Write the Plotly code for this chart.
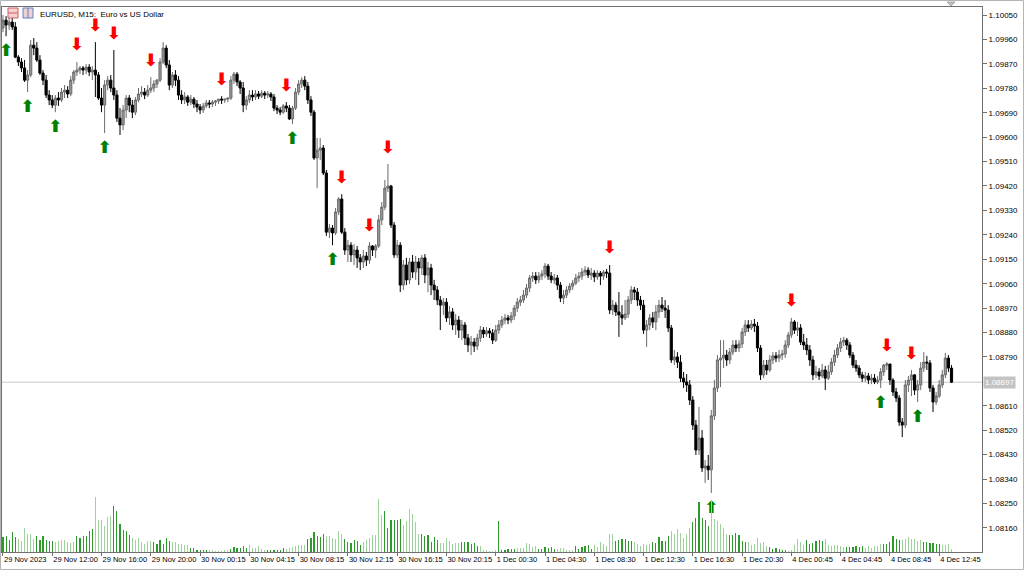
import plotly.graph_objects as go

# ---------------- data (EURUSD M15) ----------------
opens = [
1.10002,1.10031,1.10013,1.10024,1.10006,1.09895,1.09877,1.09855,1.09810,1.09829,1.09939,1.09928,1.09884,1.09836,1.09810,1.09755,
1.09737,1.09718,1.09744,1.09737,1.09766,1.09773,1.09759,1.09810,1.09840,1.09847,1.09855,1.09847,1.09858,1.09840,1.09847,1.09829,
1.09744,1.09718,1.09792,1.09810,1.09781,1.09755,1.09670,1.09645,1.09700,1.09744,1.09718,1.09692,1.09737,1.09759,1.09766,1.09755,
1.09773,1.09781,1.09796,1.09810,1.09877,1.09928,1.09866,1.09792,1.09829,1.09810,1.09755,1.09737,1.09748,1.09729,1.09740,1.09722,
1.09711,1.09700,1.09715,1.09726,1.09722,1.09729,1.09733,1.09740,1.09737,1.09740,1.09744,1.09810,1.09832,1.09803,1.09781,1.09718,
1.09737,1.09755,1.09748,1.09759,1.09751,1.09762,1.09755,1.09759,1.09748,1.09707,1.09700,1.09692,1.09715,1.09707,1.09667,1.09707,
1.09766,1.09796,1.09810,1.09788,1.09737,1.09692,1.09523,1.09552,1.09560,1.09468,1.09250,1.09265,1.09247,1.09324,1.09372,1.09250,
1.09184,1.09202,1.09166,1.09184,1.09155,1.09140,1.09162,1.09147,1.09199,1.09184,1.09199,1.09295,1.09342,1.09412,1.09420,1.09276,
1.09166,1.09202,1.09055,1.09129,1.09074,1.09140,1.09103,1.09140,1.09118,1.09155,1.09092,1.09118,1.09055,1.09037,1.09000,1.08981,
1.08992,1.08934,1.08956,1.08908,1.08926,1.08889,1.08908,1.08860,1.08834,1.08845,1.08830,1.08860,1.08889,1.08875,1.08886,1.08878,
1.08852,1.08889,1.08908,1.08926,1.08934,1.08926,1.08941,1.08970,1.08992,1.09000,1.09018,1.09044,1.09081,1.09088,1.09074,1.09088,
1.09096,1.09125,1.09088,1.09074,1.09081,1.09055,1.09007,1.09018,1.09037,1.09051,1.09062,1.09081,1.09088,1.09103,1.09110,1.09092,
1.09099,1.09085,1.09099,1.09088,1.09103,1.09099,1.08963,1.08981,1.08956,1.08945,1.08934,1.08948,1.09000,1.09037,1.09029,1.09000,
1.08981,1.08889,1.08908,1.08934,1.08919,1.08956,1.08981,1.08970,1.08963,1.08897,1.08779,1.08790,1.08771,1.08712,1.08698,1.08687,
1.08631,1.08539,1.08447,1.08491,1.08381,1.08388,1.08374,1.08573,1.08676,1.08779,1.08786,1.08797,1.08779,1.08808,1.08834,1.08823,
1.08838,1.08882,1.08908,1.08897,1.08911,1.08904,1.08823,1.08724,1.08760,1.08742,1.08779,1.08794,1.08786,1.08797,1.08801,1.08834,
1.08871,1.08919,1.08889,1.08897,1.08845,1.08834,1.08816,1.08779,1.08724,1.08735,1.08720,1.08742,1.08712,1.08735,1.08771,1.08797,
1.08823,1.08845,1.08852,1.08834,1.08797,1.08760,1.08749,1.08724,1.08712,1.08720,1.08705,1.08712,1.08698,1.08705,1.08735,1.08760,
1.08764,1.08705,1.08661,1.08639,1.08550,1.08539,1.08687,1.08705,1.08724,1.08668,1.08687,1.08749,1.08771,1.08768,1.08676,1.08624,
1.08646,1.08687,1.08724,1.08786,1.08749]

highs = [
1.10050,1.10046,1.10050,1.10039,1.10024,1.09902,1.09891,1.09884,1.09847,1.09958,1.09965,1.09950,1.09902,1.09847,1.09829,1.09773,
1.09755,1.09755,1.09766,1.09781,1.09792,1.09788,1.09825,1.09847,1.09877,1.09862,1.09862,1.09869,1.09869,1.09862,1.09950,1.09840,
1.09781,1.09810,1.09825,1.09829,1.09921,1.09773,1.09707,1.09718,1.09755,1.09755,1.09737,1.09748,1.09781,1.09788,1.09781,1.09792,
1.09821,1.09810,1.09814,1.09891,1.09950,1.09939,1.09884,1.09840,1.09847,1.09825,1.09773,1.09766,1.09755,1.09755,1.09748,1.09737,
1.09722,1.09726,1.09737,1.09737,1.09737,1.09737,1.09740,1.09751,1.09740,1.09744,1.09825,1.09840,1.09840,1.09810,1.09803,1.09751,
1.09773,1.09773,1.09773,1.09770,1.09773,1.09770,1.09770,1.09766,1.09759,1.09718,1.09711,1.09722,1.09729,1.09718,1.09715,1.09781,
1.09810,1.09821,1.09825,1.09803,1.09751,1.09700,1.09597,1.09597,1.09571,1.09479,1.09280,1.09276,1.09339,1.09379,1.09390,1.09265,
1.09221,1.09213,1.09206,1.09199,1.09169,1.09184,1.09177,1.09213,1.09202,1.09206,1.09313,1.09361,1.09442,1.09501,1.09424,1.09287,
1.09221,1.09213,1.09147,1.09155,1.09155,1.09166,1.09162,1.09155,1.09166,1.09169,1.09140,1.09133,1.09074,1.09051,1.09015,1.09007,
1.09007,1.08978,1.08970,1.08948,1.08941,1.08926,1.08919,1.08875,1.08867,1.08860,1.08875,1.08904,1.08900,1.08900,1.08897,1.08893,
1.08908,1.08926,1.08941,1.08948,1.08945,1.08956,1.08981,1.09007,1.09015,1.09037,1.09059,1.09092,1.09103,1.09103,1.09103,1.09110,
1.09136,1.09133,1.09103,1.09096,1.09092,1.09066,1.09037,1.09051,1.09062,1.09074,1.09096,1.09103,1.09118,1.09125,1.09121,1.09118,
1.09110,1.09110,1.09107,1.09110,1.09114,1.09129,1.09000,1.08992,1.09029,1.08981,1.09000,1.09015,1.09051,1.09048,1.09044,1.09015,
1.09000,1.08926,1.08948,1.08956,1.08981,1.09000,1.09011,1.09000,1.08981,1.08908,1.08816,1.08808,1.08797,1.08735,1.08727,1.08705,
1.08646,1.08558,1.08606,1.08521,1.08410,1.08429,1.08595,1.08705,1.08797,1.08852,1.08852,1.08816,1.08823,1.08852,1.08852,1.08852,
1.08897,1.08926,1.08926,1.08926,1.08930,1.08919,1.08834,1.08779,1.08779,1.08797,1.08808,1.08808,1.08816,1.08816,1.08852,1.08882,
1.08934,1.08926,1.08919,1.08911,1.08875,1.08860,1.08834,1.08794,1.08757,1.08749,1.08764,1.08757,1.08760,1.08786,1.08816,1.08838,
1.08860,1.08864,1.08860,1.08845,1.08808,1.08779,1.08760,1.08735,1.08735,1.08731,1.08727,1.08727,1.08720,1.08749,1.08764,1.08771,
1.08764,1.08712,1.08676,1.08650,1.08565,1.08705,1.08720,1.08742,1.08727,1.08705,1.08771,1.08808,1.08794,1.08779,1.08687,1.08661,
1.08705,1.08742,1.08805,1.08797,1.08760]

lows = [
1.09987,1.09972,1.09995,1.09995,1.09891,1.09862,1.09840,1.09803,1.09766,1.09821,1.09902,1.09877,1.09829,1.09792,1.09744,1.09718,
1.09707,1.09692,1.09715,1.09729,1.09744,1.09744,1.09751,1.09796,1.09825,1.09832,1.09829,1.09832,1.09825,1.09810,1.09748,1.09737,
1.09692,1.09615,1.09773,1.09766,1.09737,1.09656,1.09608,1.09626,1.09670,1.09692,1.09670,1.09681,1.09729,1.09748,1.09740,1.09748,
1.09762,1.09766,1.09781,1.09803,1.09869,1.09855,1.09773,1.09781,1.09788,1.09737,1.09722,1.09722,1.09715,1.09718,1.09707,1.09692,
1.09685,1.09689,1.09707,1.09707,1.09711,1.09715,1.09722,1.09722,1.09726,1.09729,1.09737,1.09796,1.09788,1.09759,1.09692,1.09700,
1.09726,1.09733,1.09737,1.09740,1.09744,1.09740,1.09744,1.09733,1.09696,1.09685,1.09681,1.09685,1.09692,1.09663,1.09648,1.09700,
1.09755,1.09781,1.09773,1.09722,1.09678,1.09516,1.09412,1.09516,1.09460,1.09236,1.09228,1.09202,1.09239,1.09313,1.09243,1.09166,
1.09140,1.09140,1.09129,1.09118,1.09110,1.09118,1.09125,1.09133,1.09162,1.09155,1.09191,1.09276,1.09331,1.09398,1.09265,1.09155,
1.09155,1.09029,1.09037,1.09055,1.09059,1.09081,1.09074,1.09055,1.09092,1.09062,1.09029,1.09018,1.09000,1.08981,1.08889,1.08945,
1.08919,1.08908,1.08889,1.08871,1.08860,1.08852,1.08834,1.08808,1.08797,1.08808,1.08816,1.08845,1.08860,1.08864,1.08860,1.08838,
1.08845,1.08875,1.08897,1.08911,1.08911,1.08915,1.08926,1.08956,1.08978,1.08989,1.09007,1.09029,1.09066,1.09059,1.09062,1.09074,
1.09081,1.09074,1.09062,1.09059,1.09037,1.08992,1.08985,1.09007,1.09026,1.09037,1.09055,1.09066,1.09074,1.09088,1.09081,1.09074,
1.09066,1.09074,1.09055,1.09074,1.09081,1.08948,1.08945,1.08941,1.08864,1.08908,1.08926,1.08934,1.08985,1.09000,1.08978,1.08963,
1.08875,1.08827,1.08889,1.08897,1.08889,1.08934,1.08956,1.08934,1.08882,1.08768,1.08760,1.08749,1.08698,1.08676,1.08661,1.08613,
1.08521,1.08429,1.08429,1.08366,1.08326,1.08337,1.08289,1.08558,1.08661,1.08679,1.08749,1.08757,1.08764,1.08797,1.08808,1.08808,
1.08823,1.08867,1.08882,1.08889,1.08882,1.08808,1.08705,1.08712,1.08724,1.08735,1.08764,1.08771,1.08771,1.08779,1.08786,1.08823,
1.08860,1.08875,1.08867,1.08834,1.08816,1.08797,1.08757,1.08705,1.08712,1.08705,1.08712,1.08668,1.08705,1.08724,1.08757,1.08786,
1.08808,1.08830,1.08816,1.08786,1.08749,1.08735,1.08712,1.08698,1.08698,1.08690,1.08690,1.08690,1.08690,1.08676,1.08720,1.08742,
1.08687,1.08646,1.08624,1.08536,1.08495,1.08528,1.08661,1.08646,1.08650,1.08624,1.08668,1.08735,1.08742,1.08661,1.08587,1.08613,
1.08639,1.08676,1.08712,1.08735,1.08694]

closes = [
1.10031,1.10013,1.10024,1.10006,1.09895,1.09877,1.09855,1.09810,1.09829,1.09939,1.09928,1.09884,1.09836,1.09810,1.09755,1.09737,
1.09718,1.09744,1.09737,1.09766,1.09773,1.09759,1.09810,1.09840,1.09847,1.09855,1.09847,1.09858,1.09840,1.09847,1.09829,1.09744,
1.09718,1.09792,1.09810,1.09781,1.09755,1.09670,1.09645,1.09700,1.09744,1.09718,1.09692,1.09737,1.09759,1.09766,1.09755,1.09773,
1.09781,1.09796,1.09810,1.09877,1.09928,1.09866,1.09792,1.09829,1.09810,1.09755,1.09737,1.09748,1.09729,1.09740,1.09722,1.09711,
1.09700,1.09715,1.09726,1.09722,1.09729,1.09733,1.09740,1.09737,1.09740,1.09744,1.09810,1.09832,1.09803,1.09781,1.09718,1.09737,
1.09755,1.09748,1.09759,1.09751,1.09762,1.09755,1.09759,1.09748,1.09707,1.09700,1.09692,1.09715,1.09707,1.09667,1.09707,1.09766,
1.09796,1.09810,1.09788,1.09737,1.09692,1.09523,1.09552,1.09560,1.09468,1.09250,1.09265,1.09247,1.09324,1.09372,1.09250,1.09184,
1.09202,1.09166,1.09184,1.09155,1.09140,1.09162,1.09147,1.09199,1.09184,1.09199,1.09295,1.09342,1.09412,1.09420,1.09276,1.09166,
1.09202,1.09055,1.09129,1.09074,1.09140,1.09103,1.09140,1.09118,1.09155,1.09092,1.09118,1.09055,1.09037,1.09000,1.08981,1.08992,
1.08934,1.08956,1.08908,1.08926,1.08889,1.08908,1.08860,1.08834,1.08845,1.08830,1.08860,1.08889,1.08875,1.08886,1.08878,1.08852,
1.08889,1.08908,1.08926,1.08934,1.08926,1.08941,1.08970,1.08992,1.09000,1.09018,1.09044,1.09081,1.09088,1.09074,1.09088,1.09096,
1.09125,1.09088,1.09074,1.09081,1.09055,1.09007,1.09018,1.09037,1.09051,1.09062,1.09081,1.09088,1.09103,1.09110,1.09092,1.09099,
1.09085,1.09099,1.09088,1.09103,1.09099,1.08963,1.08981,1.08956,1.08945,1.08934,1.08948,1.09000,1.09037,1.09029,1.09000,1.08981,
1.08889,1.08908,1.08934,1.08919,1.08956,1.08981,1.08970,1.08963,1.08897,1.08779,1.08790,1.08771,1.08712,1.08698,1.08687,1.08631,
1.08539,1.08447,1.08491,1.08381,1.08388,1.08374,1.08573,1.08676,1.08779,1.08786,1.08797,1.08779,1.08808,1.08834,1.08823,1.08838,
1.08882,1.08908,1.08897,1.08911,1.08904,1.08823,1.08724,1.08760,1.08742,1.08779,1.08794,1.08786,1.08797,1.08801,1.08834,1.08871,
1.08919,1.08889,1.08897,1.08845,1.08834,1.08816,1.08779,1.08724,1.08735,1.08720,1.08742,1.08712,1.08735,1.08771,1.08797,1.08823,
1.08845,1.08852,1.08834,1.08797,1.08760,1.08749,1.08724,1.08712,1.08720,1.08705,1.08712,1.08698,1.08705,1.08735,1.08760,1.08764,
1.08705,1.08661,1.08639,1.08550,1.08539,1.08687,1.08705,1.08724,1.08668,1.08687,1.08749,1.08771,1.08768,1.08676,1.08624,1.08646,
1.08687,1.08724,1.08786,1.08749,1.08697]

tick_volume = [
450,480,360,600,450,390,330,720,540,540,390,480,360,480,360,330,
330,300,330,360,360,300,270,300,480,420,480,480,630,690,1650,960,
960,780,1050,1080,1380,1230,840,660,630,510,420,360,420,300,240,330,
330,300,240,360,240,420,330,300,300,240,240,210,210,120,120,60,
60,60,60,60,60,30,30,30,60,60,90,150,120,120,180,120,
210,120,120,180,90,60,60,60,60,60,60,120,90,120,150,180,
210,210,210,390,420,600,480,450,540,480,480,420,390,630,540,390,
300,270,360,330,210,300,360,420,510,510,1590,1110,1230,720,960,960,
960,990,810,930,1290,1140,900,540,540,480,510,300,450,360,270,270,
420,330,240,270,270,300,300,300,240,270,180,180,60,60,30,30,
60,930,60,60,90,90,90,120,120,120,270,240,150,180,90,90,
150,120,150,90,90,120,120,60,60,60,180,90,150,180,210,90,
210,150,300,240,180,540,540,330,360,390,390,330,330,300,240,180,
240,210,240,300,270,450,330,330,480,630,540,690,570,420,540,720,
900,1020,1500,1020,960,780,1560,990,930,840,720,540,510,510,570,510,
330,300,300,210,240,420,270,300,180,150,90,120,90,60,60,30,
60,210,390,300,210,360,240,270,330,360,330,390,210,180,210,210,
180,150,150,150,150,180,150,180,120,180,120,180,180,240,240,240,
300,480,390,360,360,390,450,390,390,330,360,300,300,270,270,240,
240,210,210,240,90]

# fractal bars (index of bar)
fractal_up_bars = [24, 30, 36, 48, 71, 92, 110, 119, 125, 197, 256, 287, 295]
fractal_down_bars = [1, 8, 17, 33, 94, 107, 230, 285, 297]

time_tick_bars = [0, 16, 32, 48, 64, 80, 96, 112, 128, 144, 160, 176, 192, 208, 224, 240, 256, 272, 288, 304]
time_tick_labels = ["29 Nov 2023", "29 Nov 12:00", "29 Nov 16:00", "29 Nov 20:00", "30 Nov 00:15",
                    "30 Nov 04:15", "30 Nov 08:15", "30 Nov 12:15", "30 Nov 16:15", "30 Nov 20:15",
                    "1 Dec 00:30", "1 Dec 04:30", "1 Dec 08:30", "1 Dec 12:30", "1 Dec 16:30",
                    "1 Dec 20:30", "4 Dec 00:45", "4 Dec 04:45", "4 Dec 08:45", "4 Dec 12:45"]
price_ticks = [1.08160, 1.08250, 1.08340, 1.08430, 1.08520, 1.08610, 1.08790, 1.08880, 1.08970,
               1.09060, 1.09150, 1.09240, 1.09330, 1.09420, 1.09510, 1.09600, 1.09690, 1.09780,
               1.09870, 1.09960, 1.10050]
last_price = 1.08697
symbol_title = "EURUSD, M15:  Euro vs US Dollar"

# ---------------- figure ----------------
n = len(closes)
bars = list(range(n))
FONT = "Liberation Sans"

# volume bar shading (mimics the resampled look of 1px bars)
vol_colors = []
for i in bars:
    ph = (3.08 * i) % 1.0
    vol_colors.append("#9bd39b" if 0.35 < ph < 0.85 else "#2e9a2e")

fig = go.Figure()

fig.add_trace(go.Bar(
    x=bars, y=tick_volume, yaxis="y2", width=0.36,
    marker=dict(color=vol_colors, line=dict(width=0)),
    hoverinfo="skip", showlegend=False))

fig.add_trace(go.Candlestick(
    x=bars, open=opens, high=highs, low=lows, close=closes,
    increasing=dict(line=dict(color="#6a6a6a", width=1), fillcolor="#9c9c9c"),
    decreasing=dict(line=dict(color="#000000", width=1), fillcolor="#000000"),
    whiskerwidth=0, showlegend=False, hoverinfo="skip"))

arrow_off = 0.00058
fig.add_trace(go.Scatter(
    x=fractal_up_bars, y=[highs[i] + arrow_off for i in fractal_up_bars],
    mode="text", text=["\u2b07"] * len(fractal_up_bars),
    textfont=dict(color="#ff0000", size=17, family="DejaVu Sans", weight="bold"),
    hoverinfo="skip", showlegend=False))
fig.add_trace(go.Scatter(
    x=fractal_down_bars, y=[lows[i] - arrow_off for i in fractal_down_bars],
    mode="text", text=["\u2b06"] * len(fractal_down_bars),
    textfont=dict(color="#008000", size=17, family="DejaVu Sans", weight="bold"),
    hoverinfo="skip", showlegend=False))

# last price line + label
fig.add_shape(type="line", xref="paper", x0=0, x1=1, yref="y", y0=last_price, y1=last_price,
              line=dict(color="#c8c8c8", width=1), layer="below")
fig.add_annotation(xref="paper", x=1, xanchor="left", yref="y", y=last_price, yanchor="middle",
                   text=f"{last_price:.5f}", showarrow=False, bgcolor="#c3c3c3",
                   font=dict(family=FONT, size=8, color="#ffffff"), borderpad=1, xshift=1)

# title + icons
fig.add_annotation(xref="paper", x=0, xanchor="left", xshift=36, yref="paper", y=1, yanchor="top",
                   yshift=-1, text=symbol_title, showarrow=False,
                   font=dict(family=FONT, size=8, color="#000000"))
def px_x(p):
    return (p - 2) / 980.0
def px_y(p):
    return (552 - p) / 545.0
fig.add_shape(type="rect", xref="paper", yref="paper", x0=px_x(8), x1=px_x(18), y0=px_y(18), y1=px_y(8),
              line=dict(color="#d06060", width=1), fillcolor="#f4d0d0")
fig.add_shape(type="line", xref="paper", yref="paper", x0=px_x(8), x1=px_x(18), y0=px_y(13), y1=px_y(13),
              line=dict(color="#d06060", width=1))
fig.add_shape(type="rect", xref="paper", yref="paper", x0=px_x(23), x1=px_x(33), y0=px_y(18), y1=px_y(8),
              line=dict(color="#6080c0", width=1), fillcolor="#f0d0d0")
fig.add_shape(type="line", xref="paper", yref="paper", x0=px_x(28), x1=px_x(28), y0=px_y(18), y1=px_y(8),
              line=dict(color="#6080c0", width=1))
# chart-shift marker
fig.add_shape(type="path", xref="paper", yref="paper",
              path=f"M {px_x(947)} {px_y(2)} L {px_x(955)} {px_y(2)} L {px_x(951)} {px_y(6)} Z",
              line=dict(color="#a8a8a8", width=1), fillcolor="#c0c0c0")
# outer frame of the terminal window
fig.add_shape(type="rect", xref="paper", yref="paper", x0=px_x(0.5), x1=px_x(1023.5),
              y0=px_y(569.5), y1=px_y(0.5), line=dict(color="#b4b4b4", width=1))

fig.update_layout(
    width=1024, height=570,
    margin=dict(l=2, r=42, t=7, b=18),
    paper_bgcolor="#ffffff", plot_bgcolor="#ffffff",
    showlegend=False, hovermode=False,
    boxgap=0.3, boxgroupgap=0,
    xaxis=dict(range=[-0.32, 317.9], rangeslider=dict(visible=False),
               tickmode="array", tickvals=time_tick_bars, ticktext=time_tick_labels,
               tickangle=0,
               ticks="outside", ticklen=3, tickcolor="#707070",
               ticklabelposition="outside right",
               tickfont=dict(family=FONT, size=7.5, color="#000000"),
               showgrid=False, zeroline=False,
               showline=True, linecolor="#707070", linewidth=1, mirror=True),
    yaxis=dict(range=[1.080714, 1.100795], side="right",
               tickmode="array", tickvals=price_ticks, tickformat=".5f",
               ticks="outside", ticklen=4, tickcolor="#707070",
               tickfont=dict(family=FONT, size=8, color="#000000"),
               showgrid=False, zeroline=False,
               showline=True, linecolor="#707070", linewidth=1, mirror=True),
    yaxis2=dict(range=[0, 16350], overlaying="y", visible=False, fixedrange=True),
    bargap=0,
)

fig.write_html("out.html",
               config={"displayModeBar": False, "staticPlot": True},
               post_script="document.body.style.margin='0';document.body.style.padding='0';"
                           "document.body.style.overflow='hidden';")
